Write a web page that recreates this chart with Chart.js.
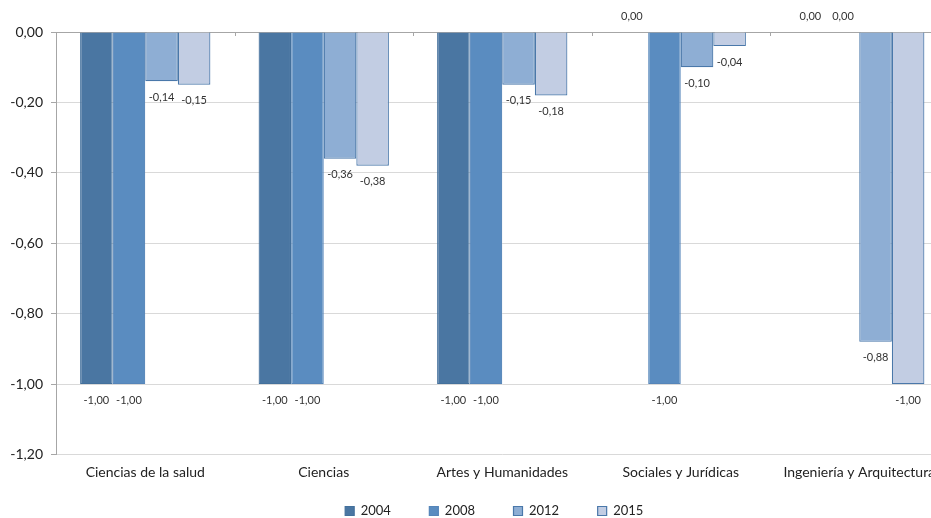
<!DOCTYPE html>
<html>
<head>
<meta charset="utf-8">
<script src="https://cdn.jsdelivr.net/npm/chart.js@4"></script>
<style>
  html, body { margin: 0; padding: 0; background: #fff; overflow: hidden; }
  #wrap { width: 931px; height: 518px; overflow: hidden; }
  #box { width: 980px; height: 550px; }
</style>
</head>
<body>
<div id="wrap"><div id="box"><canvas id="chart"></canvas></div></div>
<script>
const categories = ['Ciencias de la salud', 'Ciencias', 'Artes y Humanidades', 'Sociales y Jurídicas', 'Ingeniería y Arquitectura'];
const years = ['2004', '2008', '2012', '2015'];
const values2004 = [-1.00, -1.00, -1.00, 0.00, 0.00];
const values2008 = [-1.00, -1.00, -1.00, -1.00, 0.00];
const values2012 = [-0.14, -0.36, -0.15, -0.10, -0.88];
const values2015 = [-0.15, -0.38, -0.18, -0.04, -1.00];
const yTicks = [0, -0.2, -0.4, -0.6, -0.8, -1.0, -1.2];

const fills = ['#4a76a2', '#5a8cc0', '#8eaed4', '#c2cde3'];
const borders = ['#43709c', '#5585b9', '#4a78aa', '#4a78aa'];

const fmt = v => v.toFixed(2).replace('.', ',');

const barLabels = {
    id: 'barLabels',
    afterDatasetsDraw(chart) {
        const ctx = chart.ctx;
        const top = chart.chartArea.top;
        ctx.save();
        ctx.font = '11px Lato, "Open Sans", sans-serif';
        ctx.fillStyle = '#333';
        ctx.textAlign = 'center';
        ctx.textBaseline = 'middle';
        chart.data.datasets.forEach((ds, di) => {
            const meta = chart.getDatasetMeta(di);
            meta.data.forEach((bar, i) => {
                const v = ds.data[i];
                const y = v < 0 ? bar.y + 16 : top - 16;
                ctx.fillText(fmt(v), bar.x, y);
            });
        });
        ctx.restore();
    }
};

// little tick marks on the zero line between categories
const topAxis = {
    id: 'topAxis',
    afterDraw(chart) {
        const ctx = chart.ctx;
        const { top, left, right } = chart.chartArea;
        const step = (right - left) / categories.length;
        ctx.save();
        ctx.strokeStyle = '#a6a6a6';
        ctx.lineWidth = 1;
        ctx.beginPath();
        for (let i = 1; i < categories.length; i++) {
            const px = Math.round(left + step * i) + 0.5;
            ctx.moveTo(px, top);
            ctx.lineTo(px, top + 4);
        }
        ctx.stroke();
        ctx.restore();
    }
};

// nudge the legend to where the original sits
const legendShift = {
    id: 'legendShift',
    afterLayout(chart) {
        const lg = chart.legend;
        const dx = 20, dy = 466 - lg.top;
        lg.left += dx; lg.right += dx;
        lg.top += dy; lg.bottom += dy;
    }
};

const datasets = [values2004, values2008, values2012, values2015].map((d, i) => ({
    label: years[i],
    data: d,
    backgroundColor: fills[i],
    borderColor: borders[i],
    borderWidth: 1.2,
    categoryPercentage: 0.73,
    barPercentage: 1.0
}));

new Chart(document.getElementById('chart'), {
    type: 'bar',
    data: { labels: categories, datasets: datasets },
    options: {
        responsive: true,
        maintainAspectRatio: false,
        animation: false,
        layout: { padding: { top: 32, right: 31.5, left: 0, bottom: 0 } },
        plugins: {
            legend: {
                position: 'bottom',
                labels: {
                    boxWidth: 9,
                    boxHeight: 9,
                    padding: 38.5,
                    color: '#222',
                    font: { family: 'Lato, "Open Sans", sans-serif', size: 13 }
                }
            },
            tooltip: { enabled: false }
        },
        scales: {
            x: {
                grid: { display: false },
                border: { display: false },
                ticks: {
                    autoSkip: false,
                    maxRotation: 0,
                    padding: 2,
                    color: '#222',
                    font: { family: 'Lato, "Open Sans", sans-serif', size: 14 }
                },
                afterFit(scale) { scale.height = 34; }
            },
            y: {
                min: -1.2,
                max: 0,
                afterBuildTicks(scale) { scale.ticks = yTicks.map(v => ({ value: v })); },
                grid: {
                    color: c => (c.tick && c.tick.value === 0) ? '#a6a6a6' : '#d9d9d9',
                    tickColor: '#a6a6a6',
                    tickLength: 5
                },
                border: { display: true, color: '#a6a6a6' },
                ticks: {
                    padding: 8,
                    color: '#222',
                    font: { family: 'Lato, "Open Sans", sans-serif', size: 14 },
                    callback: v => fmt(v)
                },
                afterFit(scale) { scale.width = 56; }
            }
        }
    },
    plugins: [barLabels, topAxis, legendShift]
});
</script>
</body>
</html>
